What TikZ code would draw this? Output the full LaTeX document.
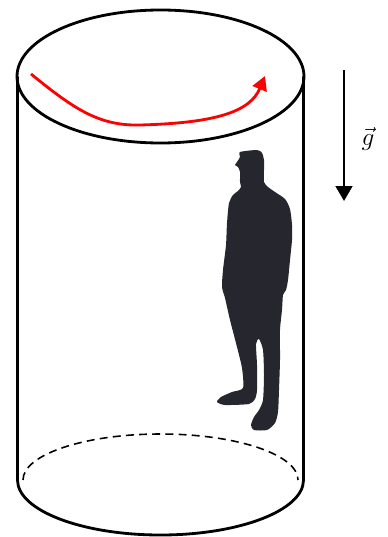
\documentclass[tikz,border=0pt]{standalone}
\usetikzlibrary{arrows.meta}

\definecolor{shadow}{RGB}{37,38,46}

\begin{document}
\begin{tikzpicture}[
    x=0.02cm, y=-0.02cm,
    rim/.style={draw=black, line width=1.6pt},
    hidden/.style={draw=black, line width=0.9pt, dash pattern=on 4.5pt off 3pt},
    spin/.style={-{Triangle[length=8pt, width=8.5pt]}, red, line width=1.6pt},
    down/.style={-{Triangle[length=8.5pt, width=9.5pt]}, black, line width=1.4pt},
  ]
  \useasboundingbox (0,0) rectangle (387,537);

  % cylinder: top rim, sides with bottom front arc, hidden back arc
  \coordinate (topc) at (160.5,76.5);
  \draw[rim] (topc) ellipse [x radius=143.5, y radius=66.5];
  \draw[rim] (17.5,76.5) -- (17.5,480)
    arc[start angle=180, end angle=0, x radius=143, y radius=55]
    -- (303.5,76.5);
  \draw[hidden] (23,480)
    arc[start angle=180, end angle=360, x radius=137.5, y radius=46];

  % rotation sense on the top rim
  \coordinate (spinA) at (31,74);
  \coordinate (spinB) at (140,125);
  \coordinate (spinC) at (265,76);
  \draw[spin] (spinA) .. controls (75,110) and (100,126) .. (spinB)
    .. controls (215,123) and (250,112) .. (spinC);

  % gravity
  \coordinate (gtop) at (344,70);
  \coordinate (gbot) at (344,201);
  \draw[down] (gtop) -- (gbot);
  \node (glabel) at (368,139) {\fontsize{15}{18}\selectfont$\vec{g}$};

  % standing man
  \fill[shadow] plot[smooth cycle, tension=0.4] coordinates {
    (240,152) (257,150) (262,153) (264,160) (264,170) (264,182)
    (268,187) (275,192) (285,199) (290,209) (292,225) (292,240)
    (290,260) (288,280) (286,290) (283,295) (282,310) (280,330)
    (280,360) (279,390) (278,412) (275,423) (267,430) (254,430)
    (251,425) (254,417) (259,410) (263,400) (264,375) (263,350)
    (259,339) (256,344) (257,365) (257,390) (255,399) (249,404)
    (225,405) (217,402) (221,397) (232,392) (243,388) (242,368)
    (237,347) (230,320) (225,298) (222,287) (223,270) (226,245)
    (227,223) (229,203) (233,195) (238,191) (241,187) (240,182)
    (240,172) (238,167) (235,165) (237,162) (240,157)};

\end{tikzpicture}
\end{document}
